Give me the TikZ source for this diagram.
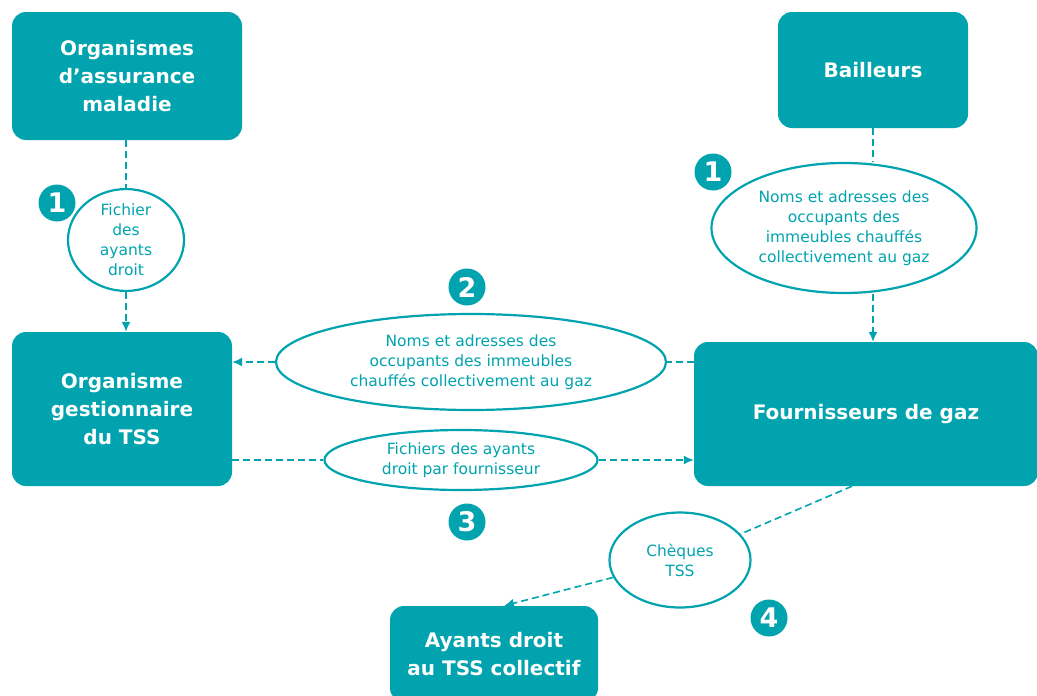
\documentclass[tikz,border=0pt]{standalone}
\usepackage{fontspec}
\setmainfont{DejaVu Sans}
\usetikzlibrary{shapes.geometric,arrows.meta}
\definecolor{tss}{RGB}{0,163,174}

\begin{document}
\begin{tikzpicture}[x=1pt,y=-1pt,
  boite/.style={fill=tss,rounded corners=14pt,text=white,align=center,
    font=\fontsize{20}{28}\selectfont\bfseries,inner sep=0pt},
  bulle/.style={ellipse,draw=tss,line width=2.2pt,text=tss,align=center,
    font=\fontsize{15.5}{20}\selectfont,inner sep=0pt},
  numero/.style={circle,fill=tss,text=white,
    font=\fontsize{27}{27}\selectfont\bfseries,minimum size=37pt,inner sep=0pt},
  flux/.style={draw=tss,line width=1.6pt,dash pattern=on 7pt off 4pt},
  >={Latex[length=10pt,width=9pt]}]
\useasboundingbox (0,0) rectangle (1037,696);
% les acteurs
\node[boite,minimum width=230pt,minimum height=128pt] (assur) at (127,76) {Organismes\\d’assurance\\maladie};
\node[boite,minimum width=190pt,minimum height=116pt] (bail) at (873,70) {Bailleurs};
\node[boite,minimum width=220pt,minimum height=154pt] (gest) at (122,409) {Organisme\\gestionnaire\\du TSS};
\node[boite,minimum width=344pt,minimum height=144pt] (fourn) at (866,414) {Fournisseurs de gaz};
\node[boite,minimum width=208pt,minimum height=96pt] (ayant) at (494,654) {Ayants droit\\au TSS collectif};
% les fichiers echanges
\node[bulle,minimum width=116pt,minimum height=95pt] (fich1) at (126,240) {Fichier\\des\\ayants\\droit};
\node[bulle,minimum width=265pt,minimum height=130pt] (noms1) at (844,228) {Noms et adresses des\\occupants des\\immeubles chauffés\\collectivement au gaz};
\node[bulle,minimum width=390pt,minimum height=96pt] (noms2) at (471,362) {Noms et adresses des\\occupants des immeubles\\chauffés collectivement au gaz};
\node[bulle,minimum width=273pt,minimum height=60pt] (fich3) at (461,460) {Fichiers des ayants\\droit par fournisseur};
\node[bulle,minimum width=141pt,minimum height=95pt] (cheq) at (680,560) {Chèques\\TSS};
% les etapes
\node[numero] (n1a) at (57,203) {1};
\node[numero] (n1b) at (713,172) {1};
\node[numero] (n2) at (467,287) {2};
\node[numero] (n3) at (467,522) {3};
\node[numero] (n4) at (769,618) {4};
% les flux
\draw[flux] (fich1.north |- assur.south) -- (fich1.north);
\draw[flux,->] (fich1.south) -- (fich1.south |- gest.north);
\draw[flux] (bail.south) -- (bail.south |- noms1.north);
\draw[flux,->] (bail.south |- noms1.south) -- (bail.south |- fourn.north);
\draw[flux] (fourn.west |- noms2.east) -- (noms2.east);
\draw[flux,->] (noms2.west) -- (noms2.west -| gest.east);
\draw[flux] (gest.east |- fich3.west) -- (fich3.west);
\draw[flux,->] (fich3.east) -- (fich3.east -| fourn.west);
\draw[flux] ([xshift=-14pt]fourn.south) -- (cheq);
\draw[flux,->] (cheq) -- ([xshift=10pt]ayant.north);
\end{tikzpicture}
\end{document}
